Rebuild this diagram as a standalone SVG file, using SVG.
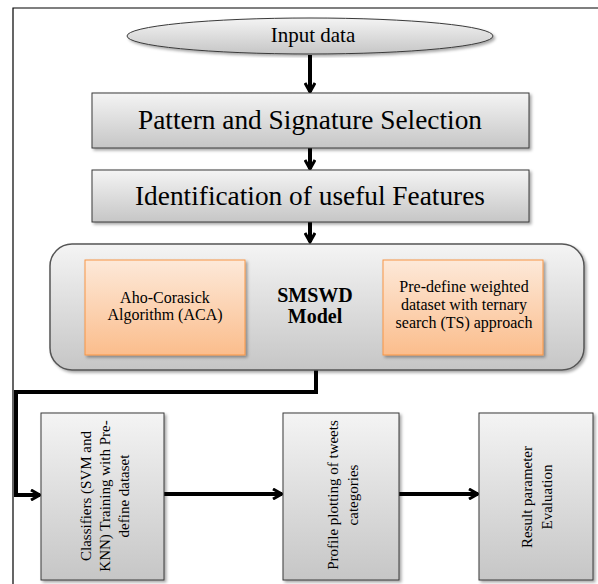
<svg xmlns="http://www.w3.org/2000/svg" width="598" height="584" viewBox="0 0 598 584">
<defs>
<linearGradient id="gray" x1="0" y1="0" x2="0" y2="1">
<stop offset="0" stop-color="#f4f4f4"/><stop offset="1" stop-color="#c6c6c6"/>
</linearGradient>
<linearGradient id="orange" x1="0" y1="0" x2="0" y2="1">
<stop offset="0" stop-color="#fde9d9"/><stop offset="1" stop-color="#fbbd8c"/>
</linearGradient>
<filter id="sh" x="-10%" y="-10%" width="120%" height="120%">
<feDropShadow dx="2" dy="2" stdDeviation="1.5" flood-color="#000" flood-opacity="0.35"/>
</filter>
<marker id="arr" viewBox="0 0 12 12" refX="10" refY="6" markerWidth="12" markerHeight="12" markerUnits="userSpaceOnUse" orient="auto">
<path d="M1,1 L10,6 L1,11" fill="none" stroke="#000" stroke-width="3"/>
</marker>
</defs>
<style>
.box{fill:url(#gray);stroke:#3a3a3a;stroke-width:1;filter:url(#sh)}
.or{fill:url(#orange);stroke:#f79646;stroke-width:1;filter:url(#sh)}
.t{font-family:"Liberation Serif","Times New Roman",serif;fill:#000;text-anchor:middle}
.c{fill:none;stroke:#000;stroke-width:4}
</style>
<rect width="598" height="584" fill="#fff"/>
<path d="M13,584 V8 H598" fill="none" stroke="#000" stroke-width="1.2"/>

<g id="connectors">
<path class="c" d="M310,55 V92" marker-end="url(#arr)"/>
<path class="c" d="M310,148 V169" marker-end="url(#arr)"/>
<path class="c" d="M310,222 V242" marker-end="url(#arr)"/>
<path class="c" d="M316,370 V392 H16 V495 H40" marker-end="url(#arr)"/>
<path class="c" d="M164,494 H282" marker-end="url(#arr)"/>
<path class="c" d="M399,494 H478" marker-end="url(#arr)"/>
</g>

<g id="input">
<ellipse cx="310" cy="36" rx="183" ry="18" fill="url(#gray)" stroke="#3a3a3a" stroke-width="1" filter="url(#sh)"/>
<text class="t" x="313" y="42" font-size="21">Input data</text>
</g>

<g id="pattern">
<rect class="box" x="92" y="93" width="437" height="55"/>
<text class="t" x="310" y="129" font-size="27" textLength="344" lengthAdjust="spacingAndGlyphs">Pattern and Signature Selection</text>
</g>

<g id="features">
<rect class="box" x="92" y="170" width="437" height="52"/>
<text class="t" x="310" y="205" font-size="27" textLength="350" lengthAdjust="spacingAndGlyphs">Identification of useful Features</text>
</g>

<g id="smswd">
<rect x="50" y="244" width="534" height="126" rx="22" fill="url(#gray)" stroke="#555" stroke-width="1.5" filter="url(#sh)"/>
<text class="t" x="315" y="302" font-size="20" font-weight="bold">SMSWD</text>
<text class="t" x="315" y="323" font-size="20" font-weight="bold">Model</text>
</g>

<g id="aca">
<rect class="or" x="85" y="260" width="160" height="95"/>
<text class="t" x="165" y="303" font-size="16">Aho-Corasick</text>
<text class="t" x="165" y="320" font-size="16">Algorithm (ACA)</text>
</g>

<g id="ts">
<rect class="or" x="383" y="260" width="160" height="95"/>
<text class="t" x="464" y="292" font-size="16">Pre-define weighted</text>
<text class="t" x="464" y="310" font-size="16">dataset with ternary</text>
<text class="t" x="464" y="328" font-size="16">search (TS) approach</text>
</g>

<g id="classifiers">
<rect class="box" x="41" y="413" width="123" height="167"/>
<g transform="translate(105,496) rotate(-90)">
<text class="t" x="0" y="-14" font-size="15">Classifiers (SVM and</text>
<text class="t" x="0" y="5" font-size="15">KNN) Training with Pre-</text>
<text class="t" x="0" y="24" font-size="15">define dataset</text>
</g>
</g>

<g id="profile">
<rect class="box" x="283" y="413" width="116" height="167"/>
<g transform="translate(343,495) rotate(-90)">
<text class="t" x="0" y="-5" font-size="15">Profile plotting of tweets</text>
<text class="t" x="0" y="15" font-size="15">categories</text>
</g>
</g>

<g id="result">
<rect class="box" x="479" y="413" width="114" height="167"/>
<g transform="translate(537,497) rotate(-90)">
<text class="t" x="0" y="-5" font-size="15">Result parameter</text>
<text class="t" x="0" y="15" font-size="15">Evaluation</text>
</g>
</g>
</svg>
